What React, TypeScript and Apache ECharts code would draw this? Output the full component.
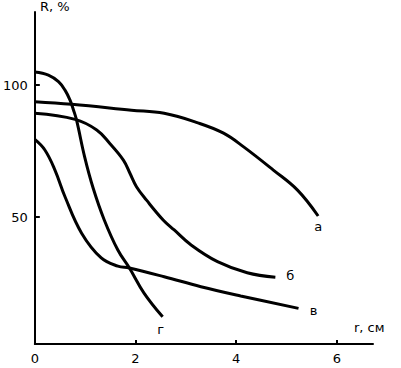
import React, { useEffect, useRef } from "react";
import * as echarts from "echarts";

const xTicks = [0, 2, 4, 6];
const yTicks = [50, 100];

const curveA: [number, number][] = [
  [0, 93.7], [0.73, 92.7], [1.92, 90.5], [2.57, 89.3], [3.24, 85.7], [3.75, 81.8],
  [4.15, 76.6], [4.74, 67.8], [5.22, 60.2], [5.63, 50.4],
];
const curveB: [number, number][] = [
  [0, 89.3], [0.8, 87.0], [1.23, 83.0], [1.49, 77.9], [1.76, 71.6], [1.89, 66.6],
  [2.02, 61.5], [2.22, 56.4], [2.55, 48.9], [2.77, 45.1], [3.1, 39.5], [3.63, 33.1],
  [4.22, 28.9], [4.78, 27.2],
];
const curveV: [number, number][] = [
  [0, 79.4], [0.2, 75.4], [0.4, 67.8], [0.6, 57.7], [0.93, 43.9],
  [1.32, 34.5], [1.65, 31.4], [1.88, 30.7], [2.57, 27.4], [3.3, 23.6], [4.09, 20.1], [5.24, 15.4],
];
const curveG: [number, number][] = [
  [0, 105.0], [0.27, 103.8], [0.47, 101.3], [0.6, 98.1], [0.7, 94.3], [0.77, 90.5],
  [0.83, 86.7], [0.99, 72.8], [1.16, 60.9], [1.38, 48.9], [1.65, 37.5], [1.88, 30.7],
  [2.17, 21.2], [2.54, 12.2],
];

const curveNames = ["а", "б", "в", "г"];
const font = "DejaVu Sans";

export default function App() {
  const ref = useRef<HTMLDivElement>(null);
  useEffect(() => {
    if (!ref.current) return;
    const chart = echarts.init(ref.current, null, { renderer: "svg" });
    const lineSeries = (name: string, data: [number, number][], offset: number[]) => ({
      type: "line",
      name,
      data,
      smooth: 0.4,
      showSymbol: false,
      symbol: "none",
      lineStyle: { color: "#000", width: 3 },
      endLabel: {
        show: true,
        formatter: name,
        distance: 0,
        align: "center",
        verticalAlign: "middle",
        offset,
        color: "#000",
        fontFamily: font,
        fontSize: 13,
      },
      z: 3,
    });
    chart.setOption({
      animation: false,
      backgroundColor: "#fff",
      grid: { left: 33, top: 12, right: 28, bottom: 24 },
      xAxis: {
        type: "value",
        min: 0,
        max: 6.72,
        splitLine: { show: false },
        axisLine: { lineStyle: { color: "#000", width: 2 } },
        axisTick: { inside: true, length: 4, customValues: xTicks, lineStyle: { color: "#000", width: 2 } },
        axisLabel: { customValues: xTicks, color: "#000", fontFamily: font, fontSize: 13, margin: 8 },
      },
      yAxis: {
        type: "value",
        min: 1.9,
        max: 127.7,
        splitLine: { show: false },
        axisLine: { show: true, lineStyle: { color: "#000", width: 2 } },
        axisTick: { show: true, inside: true, length: 5, customValues: yTicks, lineStyle: { color: "#000", width: 2 } },
        axisLabel: { customValues: yTicks, color: "#000", fontFamily: font, fontSize: 13, margin: 7 },
      },
      graphic: [
        { type: "text", left: 40, top: 0, style: { text: "R, %", fill: "#000", font: `13px "${font}"` } },
        { type: "text", left: 354, top: 321, style: { text: "r, см", fill: "#000", font: `13px "${font}"` } },
      ],
      series: [
        lineSeries(curveNames[0], curveA, [0, 10]),
        lineSeries(curveNames[1], curveB, [15, -2]),
        lineSeries(curveNames[2], curveV, [15, 2]),
        lineSeries(curveNames[3], curveG, [-2, 13]),
      ],
    });
    return () => chart.dispose();
  }, []);
  return (
    <div
      ref={ref}
      style={{ width: 401, height: 368, position: "absolute", left: 0, top: 0 }}
    />
  );
}
